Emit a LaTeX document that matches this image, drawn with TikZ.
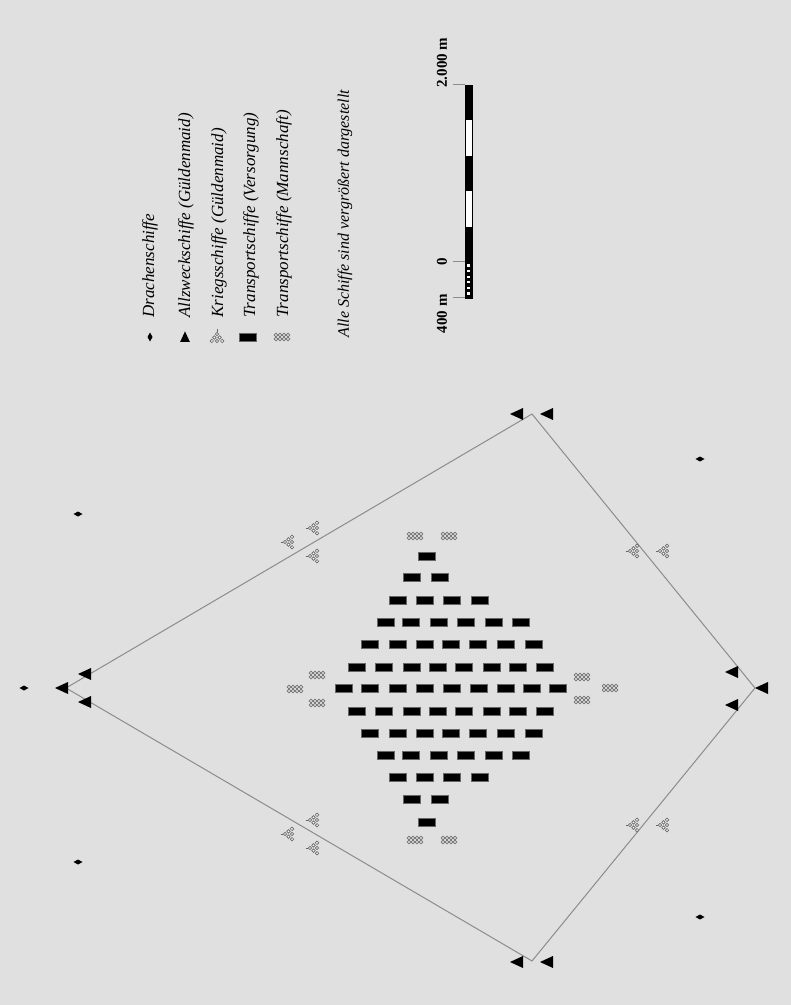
\documentclass[tikz,border=0pt]{standalone}
\usepackage{fontspec}
\setmainfont{Liberation Serif}
\begin{document}
\begin{tikzpicture}[x=0.5pt, y=-0.5pt,
    linha/.style={black!45, line width=0.5pt},
    legenda/.style={rotate=90, anchor=west, inner sep=0pt, font=\fontsize{8.5}{10}\selectfont\itshape},
    escala/.style={rotate=90, inner sep=0pt, font=\fontsize{7.5}{9}\selectfont\bfseries},
    drache/.pic={\fill[black] (-4.5,0) -- (0,-2.5) -- (4.5,0) -- (0,2.5) -- cycle;},
    allzweck/.pic={\fill[black] (-7,0) -- (6,-6) -- (6,6) -- cycle;},
    krieg/.pic={
        \draw[black!60, line width=0.35pt] (-7.5,0) -- (-5,0);
        \foreach \cx/\cy in {-3/0, 0.5/-2.6, 0.5/2.6, 4/-5.2, 4/0, 4/5.2}
            \draw[black!60, line width=0.35pt, fill=white] (\cx,\cy) circle (1.7);},
    versorgung/.pic={\fill[black, draw=black!60, line width=0.3pt] (-8.5,-4) rectangle (8.5,4);},
    mannschaft/.pic={
        \fill[gray!25] (-8.5,-4) rectangle (8.5,4);
        \foreach \cx in {-6,-2,2,6}
            \foreach \cy in {-2,2}
                \draw[black!55, line width=0.35pt] (\cx,\cy) circle (1.9);}]

    % 1. FUNDO (mesmas proporções da imagem)
    \useasboundingbox (0,0) rectangle (791,1005);
    \fill[black!12] (0,0) rectangle (791,1005);

    % ==========================================
    % 2. LEGENDA
    % ==========================================
    \pic[rotate=90] at (150,337) {drache};
    \pic[rotate=-90, scale=0.8] at (185,337) {allzweck};
    \pic[rotate=-90] at (217,337) {krieg};
    \pic at (248,337) {versorgung};
    \pic at (282,337) {mannschaft};

    \node[legenda] (ldrache) at (150,318) {Drachenschiffe};
    \node[legenda] (lallzweck) at (186,318) {Allzweckschiffe (Güldenmaid)};
    \node[legenda] (lkrieg) at (219,318) {Kriegsschiffe (Güldenmaid)};
    \node[legenda] (lversorgung) at (251,318) {Transportschiffe (Versorgung)};
    \node[legenda] (lmannschaft) at (284,318) {Transportschiffe (Mannschaft)};
    \node[legenda, font=\fontsize{8}{10}\selectfont\itshape] (lnota) at (345,338) {Alle Schiffe sind vergrößert dargestellt};

    % ==========================================
    % 3. ESCALA (0 ate 2.000 m)
    % ==========================================
    \def\bx{465}     % borda esquerda da barra
    \def\bw{7}       % largura da barra
    \def\seg{35.4}   % 400 m
    \def\yzero{262}  % posicao do zero

    \fill[white] (\bx,\yzero-5*\seg) rectangle (\bx+\bw,\yzero);
    \foreach \k in {0,2,4}
        \fill[black] (\bx,\yzero-\k*\seg) rectangle (\bx+\bw,\yzero-\k*\seg-\seg);
    % Subdivisao de 400 m
    \fill[black] (\bx,\yzero) rectangle (\bx+\bw,\yzero+36);
    \foreach \j in {0,...,5}
        \fill[white] (\bx+1.6,\yzero+2.4+\j*5.6) rectangle (\bx+\bw-1.6,\yzero+4.6+\j*5.6);
    \draw[black, line width=0.4pt] (\bx,\yzero-5*\seg) rectangle (\bx+\bw,\yzero+36);

    \coordinate (s2000) at (\bx,\yzero-5*\seg);
    \coordinate (s0) at (\bx,\yzero);
    \coordinate (s400) at (\bx,\yzero+36);
    \draw[linha] (s2000) -- ++(-12,0);
    \draw[linha] (s0) -- ++(-12,0);
    \draw[linha] (s400) -- ++(-12,0);

    \node[escala, anchor=west] (l2000) at (442,88) {2.000 m};
    \node[escala] (l0) at (442,262) {0};
    \node[escala, anchor=east] (l400) at (442,294) {400 m};

    % ==========================================
    % 4. LINHAS DA FORMACAO
    % ==========================================
    \coordinate (L) at (66,688);
    \coordinate (T) at (532,414);
    \coordinate (R) at (755,688);
    \coordinate (B) at (532,961);
    \draw[linha] (L) -- (T) -- (R) -- (B) -- cycle;

    % ==========================================
    % 5. NAVIOS
    % ==========================================
    % Drachenschiffe
    \foreach \px/\py in {24/688, 78/514, 78/862, 700/459, 700/917}
        \pic at (\px,\py) {drache};

    % Allzweckschiffe nos vertices
    \foreach \px/\py in {62/688, 85/674, 85/702, 517/414, 547/414,
                         517/962, 547/962, 732/672, 762/688, 732/705}
        \pic at (\px,\py) {allzweck};

    % Kriegsschiffe nos lados
    \foreach \px/\py in {313/528, 288/542, 313/556, 313/820, 288/834, 313/848,
                         633/551, 663/551, 633/825, 663/825}
        \pic at (\px,\py) {krieg};

    % Transportschiffe (Versorgung): losango central
    \foreach \py/\xs in {556/{427}, 577/{412,440}, 600/{398,425,452,480},
                         622/{386,411,439,466,494,521},
                         644/{370,398,425,451,478,506,534},
                         667/{357,384,412,438,464,492,518,545},
                         688/{344,370,398,425,452,479,506,532,558},
                         711/{357,384,412,438,464,492,518,545},
                         733/{370,398,425,451,478,506,534},
                         755/{386,411,439,466,494,521},
                         777/{398,425,452,480}, 799/{412,440}, 822/{427}}
        \foreach \px in \xs
            \pic at (\px,\py) {versorgung};

    % Transportschiffe (Mannschaft)
    \foreach \px/\py in {415/536, 449/536, 415/840, 449/840,
                         295/689, 317/675, 317/703, 582/677, 582/700, 610/688}
        \pic at (\px,\py) {mannschaft};
\end{tikzpicture}
\end{document}
